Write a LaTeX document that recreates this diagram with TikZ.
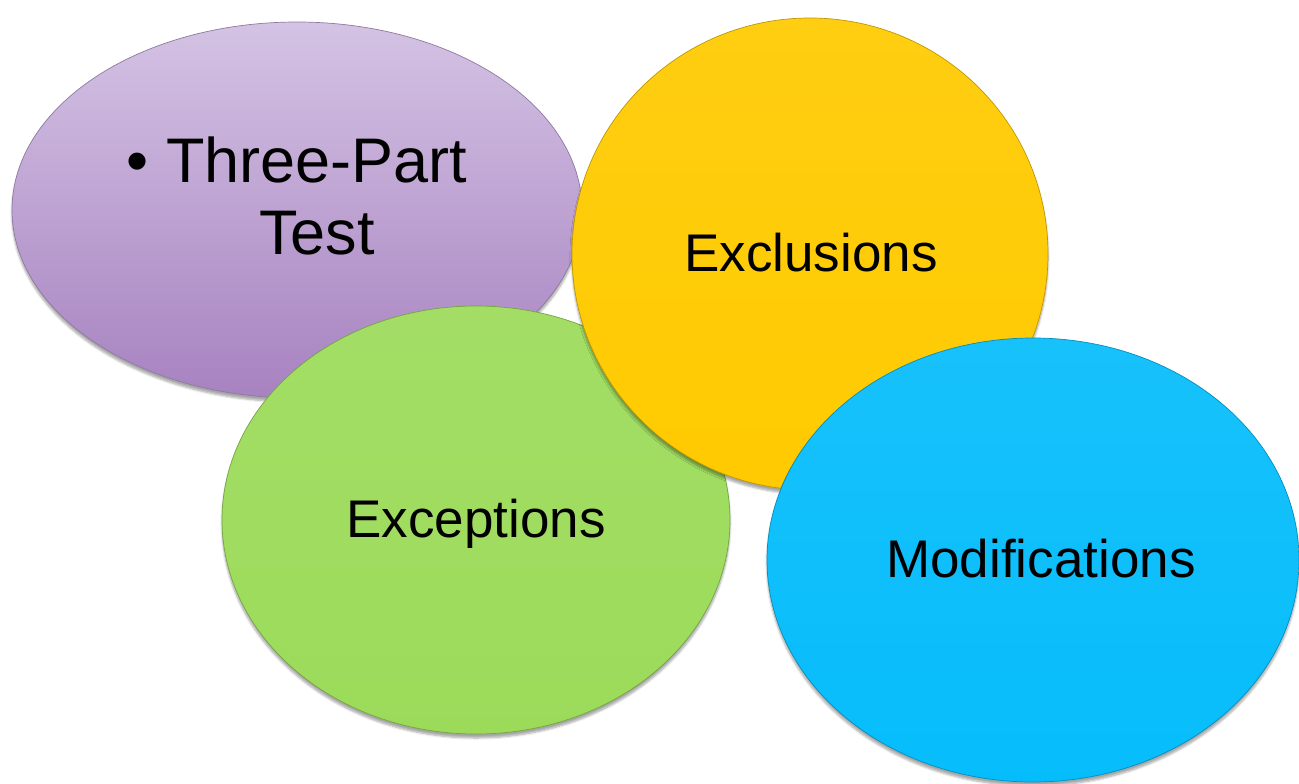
\documentclass[tikz,border=0pt]{standalone}
\usepackage{fontspec}
\setmainfont{Liberation Sans}
\usetikzlibrary{shapes.geometric,shadows,shadows.blur}

\definecolor{lilac}{HTML}{BCA3D5}
\definecolor{lilactop}{HTML}{D4C3E4}
\definecolor{lilacbot}{HTML}{A782C0}
\definecolor{amber}{HTML}{FFCA00}
\definecolor{lime}{HTML}{9CDB5A}
\definecolor{sky}{HTML}{06BDFB}

\begin{document}
\begin{tikzpicture}[
  x=1pt, y=-1pt,
  bubble/.style={ellipse, inner sep=0pt, draw=#1!75!black, line width=0.7pt,
    top color=#1!93!white, bottom color=#1,
    blur shadow={shadow xshift=0pt, shadow yshift=-4pt, shadow blur steps=6, shadow opacity=35}},
  word/.style={anchor=base, font=\fontsize{53}{64}\selectfont}
]
\useasboundingbox (0,0) rectangle (1299,784);

% ---------- the four ellipses, back to front ----------
\node[bubble=lilac, top color=lilactop, bottom color=lilacbot,
      minimum width=570pt, minimum height=376pt] (test) at (297,210) {};
\node[bubble=lime, minimum width=508pt, minimum height=428pt] (exc) at (476,520) {};
\node[bubble=amber, minimum width=476pt, minimum height=472pt] (excl) at (810,254) {};
\node[bubble=sky, minimum width=532pt, minimum height=444pt] (mod) at (1033,560) {};

% ---------- labels ----------
\node[anchor=base, align=center, font=\fontsize{63}{72}\selectfont] (testtxt) at (297,254)
  {\textbullet\ Three-Part\\\hphantom{\textbullet\ }Test};
\node[word] (exctxt) at (476,537) {Exceptions};
\node[word] (excltxt) at (811,271) {Exclusions};
\node[word] (modtxt) at (1041,577) {Modifications};
\end{tikzpicture}
\end{document}
